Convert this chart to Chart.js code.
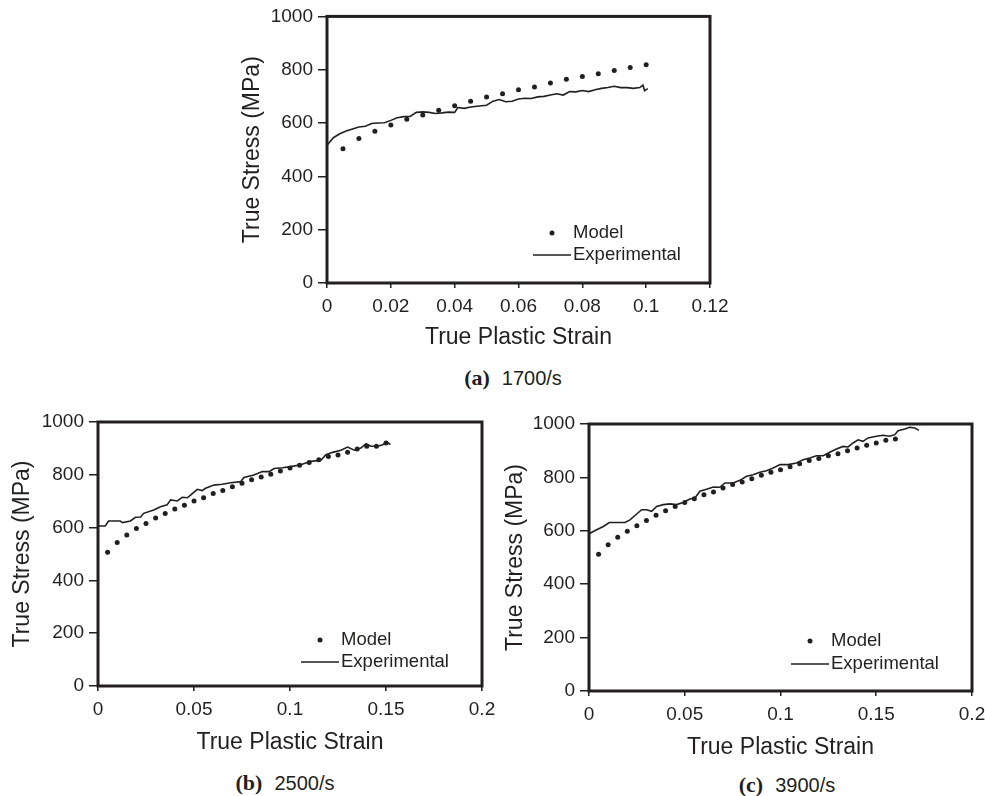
<!DOCTYPE html>
<html>
<head>
<meta charset="utf-8">
<script src="https://cdn.jsdelivr.net/npm/chart.js@4.4.1/dist/chart.umd.min.js"></script>
<style>
  body{margin:0;background:#fff;width:985px;height:796px;position:relative;overflow:hidden}
  canvas{position:absolute}
  .cap{position:absolute;width:200px;text-align:center;line-height:26px;color:#231f20;white-space:nowrap}
  .cap b{font:bold 22px "Liberation Serif",serif;margin-right:12px}
  .cap span{font:20px "Liberation Sans",Arial,sans-serif}
</style>
</head>
<body>
<canvas id="chartA" width="496" height="351" style="left:239px;top:0px"></canvas>
<canvas id="chartB" width="495" height="356" style="left:9px;top:400px"></canvas>
<canvas id="chartC" width="483" height="361" style="left:502px;top:400px"></canvas>
<div class="cap" style="left:413px;top:365px"><b>(a)</b><span>1700/s</span></div>
<div class="cap" style="left:185px;top:770px"><b>(b)</b><span>2500/s</span></div>
<div class="cap" style="left:687px;top:772px"><b>(c)</b><span>3900/s</span></div>
<script>
// tick labels
const yTicks=[0,200,400,600,800,1000];
const xTicksA=[0,0.02,0.04,0.06,0.08,0.1,0.12];
const xTicksBC=[0,0.05,0.1,0.15,0.2];

// (a) 1700/s
const modelStrainA=[0.005,0.01,0.015,0.02,0.025,0.03,0.035,0.04,0.045,0.05,0.055,0.06,0.065,0.07,0.075,0.08,0.085,0.09,0.095,0.1];
const modelStressA=[504,542,569,593,614,630,648,665,682,698,710,725,735,750,764,775,785,797,808,819];
const expStrainA=[0,0.002,0.004,0.006,0.008,0.01,0.012,0.014,0.016,0.018,0.02,0.022,0.024,0.026,0.028,0.03,0.032,0.034,0.036,0.038,0.04,0.041,0.043,0.045,0.047,0.05,0.052,0.054,0.056,0.058,0.06,0.062,0.064,0.066,0.068,0.07,0.072,0.074,0.076,0.078,0.08,0.082,0.084,0.086,0.088,0.09,0.092,0.094,0.096,0.098,0.099,0.0995,0.1005];
const expStressA=[517,545,560,570,578,585,588,598,600,601,610,620,624,625,640,642,640,636,638,641,640,658,655,660,663,667,682,688,680,682,690,693,692,698,700,705,710,705,718,717,722,718,725,730,733,738,733,733,730,733,742,721,729];

// (b) 2500/s
const modelStrainB=[0.005,0.01,0.015,0.02,0.025,0.03,0.035,0.04,0.045,0.05,0.055,0.06,0.065,0.07,0.075,0.08,0.085,0.09,0.095,0.1,0.105,0.11,0.115,0.12,0.125,0.13,0.135,0.14,0.145,0.15];
const modelStressB=[507,544,572,597,616,636,653,670,685,701,713,729,741,755,768,781,792,802,814,826,836,847,857,869,875,885,898,908,908,920];
const expStrainB=[0,0.0038,0.0055,0.0116,0.0128,0.0169,0.0195,0.0222,0.0238,0.029,0.0325,0.036,0.0378,0.0413,0.0439,0.0465,0.0482,0.0517,0.0543,0.056,0.0604,0.0647,0.0691,0.0743,0.076,0.0812,0.0856,0.0891,0.0917,0.0961,0.1004,0.1056,0.1108,0.1161,0.1187,0.1222,0.1265,0.13,0.1335,0.1369,0.1396,0.1422,0.1456,0.1483,0.1505,0.1523];
const expStressB=[606,606,625,625,619,625,639,640,654,667,679,686,705,701,715,713,723,745,740,749,761,764,770,774,790,799,812,812,824,827,831,838,851,855,876,885,893,905,893,901,918,908,908,914,924,914];

// (c) 3900/s
const modelStrainC=[0.005,0.01,0.015,0.02,0.025,0.03,0.035,0.04,0.045,0.05,0.055,0.06,0.065,0.07,0.075,0.08,0.085,0.09,0.095,0.1,0.105,0.11,0.115,0.12,0.125,0.13,0.135,0.14,0.145,0.15,0.155,0.16];
const modelStressC=[512,548,576,598,619,639,658,675,691,706,720,735,745,760,773,783,795,808,819,829,840,851,863,871,881,889,900,910,920,929,939,944];
const expStrainC=[0,0.004,0.0075,0.0106,0.0144,0.0188,0.0214,0.0249,0.0275,0.0301,0.0327,0.0353,0.0388,0.0423,0.0457,0.0492,0.0527,0.0553,0.0579,0.0614,0.0649,0.0683,0.071,0.0753,0.0788,0.0823,0.0857,0.0892,0.0927,0.0962,0.0997,0.104,0.1083,0.1118,0.1153,0.1188,0.1223,0.1257,0.1292,0.1327,0.1353,0.1379,0.1405,0.1431,0.1457,0.1501,0.1536,0.157,0.1597,0.1614,0.1649,0.1675,0.1701,0.1723];
const expStressC=[589,604,616,631,631,631,641,663,679,679,673,691,698,701,698,706,719,723,748,756,764,763,779,779,789,804,810,819,825,835,848,848,854,866,873,881,881,894,906,916,914,929,941,935,948,954,958,954,960,975,981,988,985,976];

const ink='#231f20';
const sans='"Liberation Sans", Arial, sans-serif';

const framePlugin={
  id:'frame',
  afterDraw(chart,args,opts){
    const {ctx,chartArea:a}=chart;
    ctx.save();
    ctx.strokeStyle=ink;
    ctx.lineWidth=3;
    ctx.strokeRect(a.left,a.top,a.right-a.left,a.bottom-a.top);
    // legend inside the plot
    const tx=a.right-opts.dx, y1=a.bottom-opts.dy1, y2=a.bottom-opts.dy2;
    ctx.fillStyle=ink;
    ctx.beginPath();
    ctx.arc(tx-21,y1,2.5,0,Math.PI*2);
    ctx.fill();
    ctx.lineWidth=1.5;
    ctx.beginPath();
    ctx.moveTo(tx-40,y2);
    ctx.lineTo(tx-2,y2);
    ctx.stroke();
    ctx.font='18.5px '+sans;
    ctx.textBaseline='middle';
    ctx.textAlign='left';
    ctx.fillText('Model',tx,y1);
    ctx.fillText('Experimental',tx,y2);
    ctx.restore();
  }
};

function pts(xs,ys){
  return xs.map((x,i)=>({x:x,y:ys[i]}));
}

function makeChart(id,cfg){
  return new Chart(document.getElementById(id),{
    type:'scatter',
    data:{
      datasets:[{
        label:'Model',
        data:pts(cfg.modelX,cfg.modelY),
        showLine:false,
        pointRadius:2.5,
        pointBackgroundColor:ink,
        pointBorderWidth:0
      },{
        label:'Experimental',
        data:pts(cfg.expX,cfg.expY),
        showLine:true,
        pointRadius:0,
        borderColor:ink,
        borderWidth:1.6,
        tension:0
      }]
    },
    options:{
      responsive:false,
      animation:false,
      events:[],
      layout:{padding:cfg.pad},
      plugins:{
        legend:{display:false},
        tooltip:{enabled:false},
        frame:cfg.legend
      },
      scales:{
        x:{
          type:'linear',
          min:cfg.xTicks[0],
          max:cfg.xTicks[cfg.xTicks.length-1],
          afterBuildTicks:s=>{s.ticks=cfg.xTicks.map(v=>({value:v}));},
          afterFit:s=>{s.height=cfg.xH;s.paddingRight=0;s.paddingLeft=0;},
          border:{display:false},
          grid:{drawOnChartArea:false,drawTicks:true,tickLength:5,color:ink,lineWidth:1.5},
          ticks:{color:ink,font:{family:sans,size:19},padding:7,maxRotation:0,
            callback:v=>String(+v.toFixed(3))},
          title:{display:true,text:'True Plastic Strain',color:ink,font:{family:sans,size:23},padding:0}
        },
        y:{
          type:'linear',
          min:0,
          max:1000,
          afterBuildTicks:s=>{s.ticks=yTicks.map(v=>({value:v}));},
          afterFit:s=>{s.width=cfg.yW;},
          border:{display:false},
          grid:{drawOnChartArea:false,drawTicks:true,tickLength:9,color:ink,lineWidth:1.5},
          ticks:{color:ink,font:{family:sans,size:19},padding:5,callback:v=>String(v)},
          title:{display:true,text:'True Stress (MPa)',color:ink,font:{family:sans,size:23},padding:0}
        }
      }
    },
    plugins:[framePlugin]
  });
}

makeChart('chartA',{modelX:modelStrainA,modelY:modelStressA,expX:expStrainA,expY:expStressA,
  xTicks:xTicksA,yW:88,xH:68,pad:{top:16,right:25,bottom:0,left:0},legend:{dx:137,dy1:50,dy2:28}});
makeChart('chartB',{modelX:modelStrainB,modelY:modelStressB,expX:expStrainB,expY:expStressB,
  xTicks:xTicksBC,yW:89,xH:70,pad:{top:22,right:22,bottom:0,left:0},legend:{dx:141,dy1:46,dy2:24}});
makeChart('chartC',{modelX:modelStrainC,modelY:modelStressC,expX:expStrainC,expY:expStressC,
  xTicks:xTicksBC,yW:87,xH:70,pad:{top:24,right:13,bottom:0,left:0},legend:{dx:141,dy1:50,dy2:27}});
</script>
</body>
</html>
